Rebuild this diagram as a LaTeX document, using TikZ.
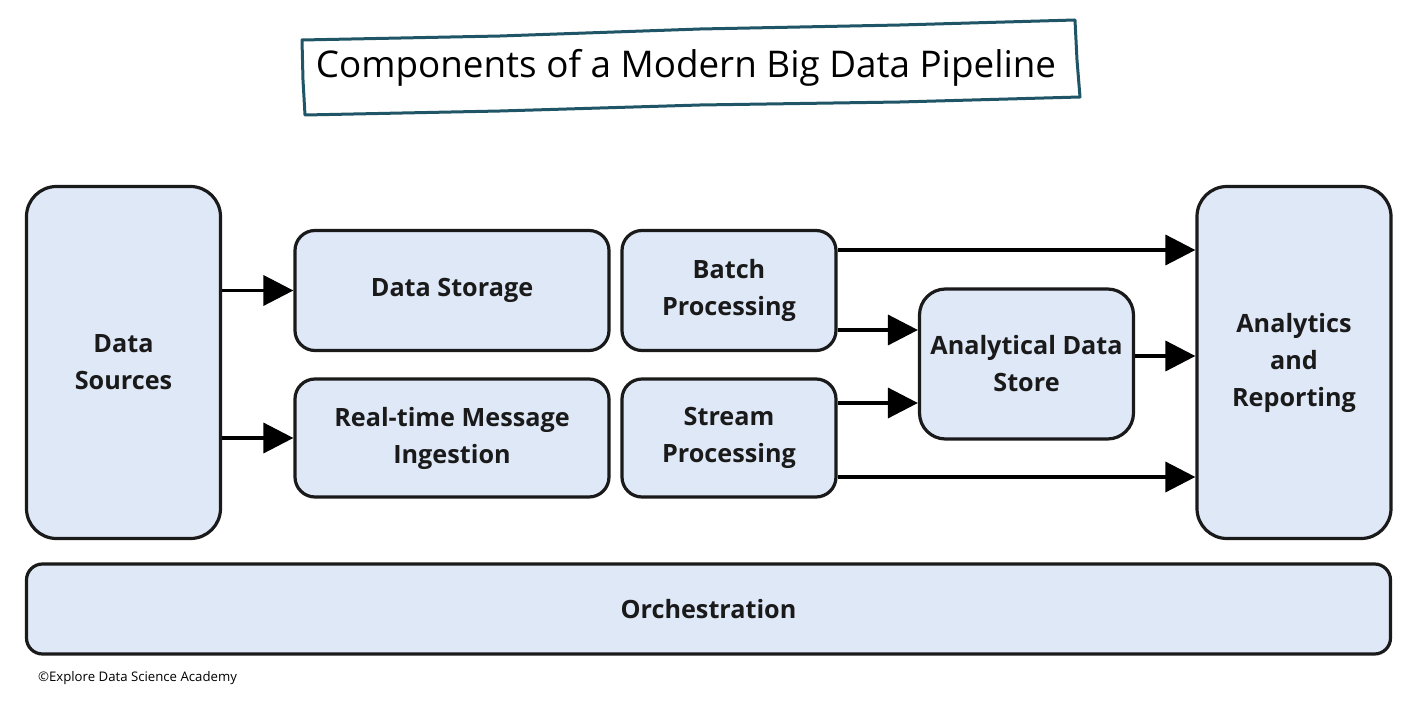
\documentclass[tikz,border=0pt]{standalone}
\usepackage{fontspec}
\setmainfont{Open Sans}
\usepackage{xcolor}
\usetikzlibrary{arrows.meta,positioning,calc}
\definecolor{boxfill}{HTML}{DFE8F7}
\definecolor{edge}{HTML}{1A1A1A}
\definecolor{frame}{HTML}{1F5566}

\begin{document}
\begin{tikzpicture}[x=0.5pt,y=-0.5pt,
  blk/.style={draw=edge,line width=1.6pt,fill=boxfill,rounded corners=10pt,align=center,
    inner sep=0pt,font=\fontsize{12.6}{18.5}\selectfont\bfseries,text=edge},
  arr/.style={-{Triangle[length=15pt,width=15pt]},line width=1.8pt,draw=black}]
\useasboundingbox (0,0) rectangle (1415,706);
% title
\draw[frame,line width=1.5pt,line join=round]
  (302,40) -- (500,36) -- (700,29) -- (900,25) -- (1075,20) -- (1077,60) -- (1080,97)
  -- (900,102) -- (700,105) -- (500,111) -- (305,115) -- (303,80) -- cycle;
\node[font=\fontsize{18.4}{22}\selectfont,text=black] (title) at (686,68) {Components of a Modern Big Data Pipeline};
% boxes
\node[blk,rounded corners=15pt,minimum width=97pt,minimum height=176pt] (src) at (123.5,362.5) {Data\\Sources};
\node[blk,minimum width=157pt,minimum height=60pt] (store) at (452,290.5) {Data Storage};
\node[blk,minimum width=157pt,minimum height=59pt] (ingest) at (452,438) {Real-time Message\\Ingestion};
\node[blk,minimum width=107pt,minimum height=60pt] (batch) at (729,290.5) {Batch\\Processing};
\node[blk,minimum width=107pt,minimum height=59pt] (stream) at (729,438) {Stream\\Processing};
\node[blk,rounded corners=13pt,minimum width=107pt,minimum height=75pt] (ads) at (1026.5,364) {Analytical Data\\Store};
\node[blk,rounded corners=15pt,minimum width=97pt,minimum height=176pt] (report) at (1294,362.5) {Analytics\\and\\Reporting};
\node[blk,rounded corners=8pt,minimum width=682pt,minimum height=45pt] (orch) at (708.5,609) {Orchestration};
% arrows
\coordinate (b1) at ($(batch.east)+(0,-40.5)$);
\coordinate (b2) at ($(batch.east)+(0,39.5)$);
\coordinate (s1) at ($(stream.east)+(0,-35)$);
\coordinate (s2) at ($(stream.east)+(0,39)$);
\coordinate (a1) at ($(ads.east)+(0,-8)$);
\draw[arr] (src.east |- store.west) -- (store.west);
\draw[arr] (src.east |- ingest.west) -- (ingest.west);
\draw[arr] (b1) -- (b1 -| report.west);
\draw[arr] (b2) -- (b2 -| ads.west);
\draw[arr] (s1) -- (s1 -| ads.west);
\draw[arr] (s2) -- (s2 -| report.west);
\draw[arr] (a1) -- (a1 -| report.west);
% footer
\node[anchor=west,font=\fontsize{6.6}{8}\selectfont,text=black] (credit) at (31,678) {©Explore Data Science Academy};
\end{tikzpicture}
\end{document}
